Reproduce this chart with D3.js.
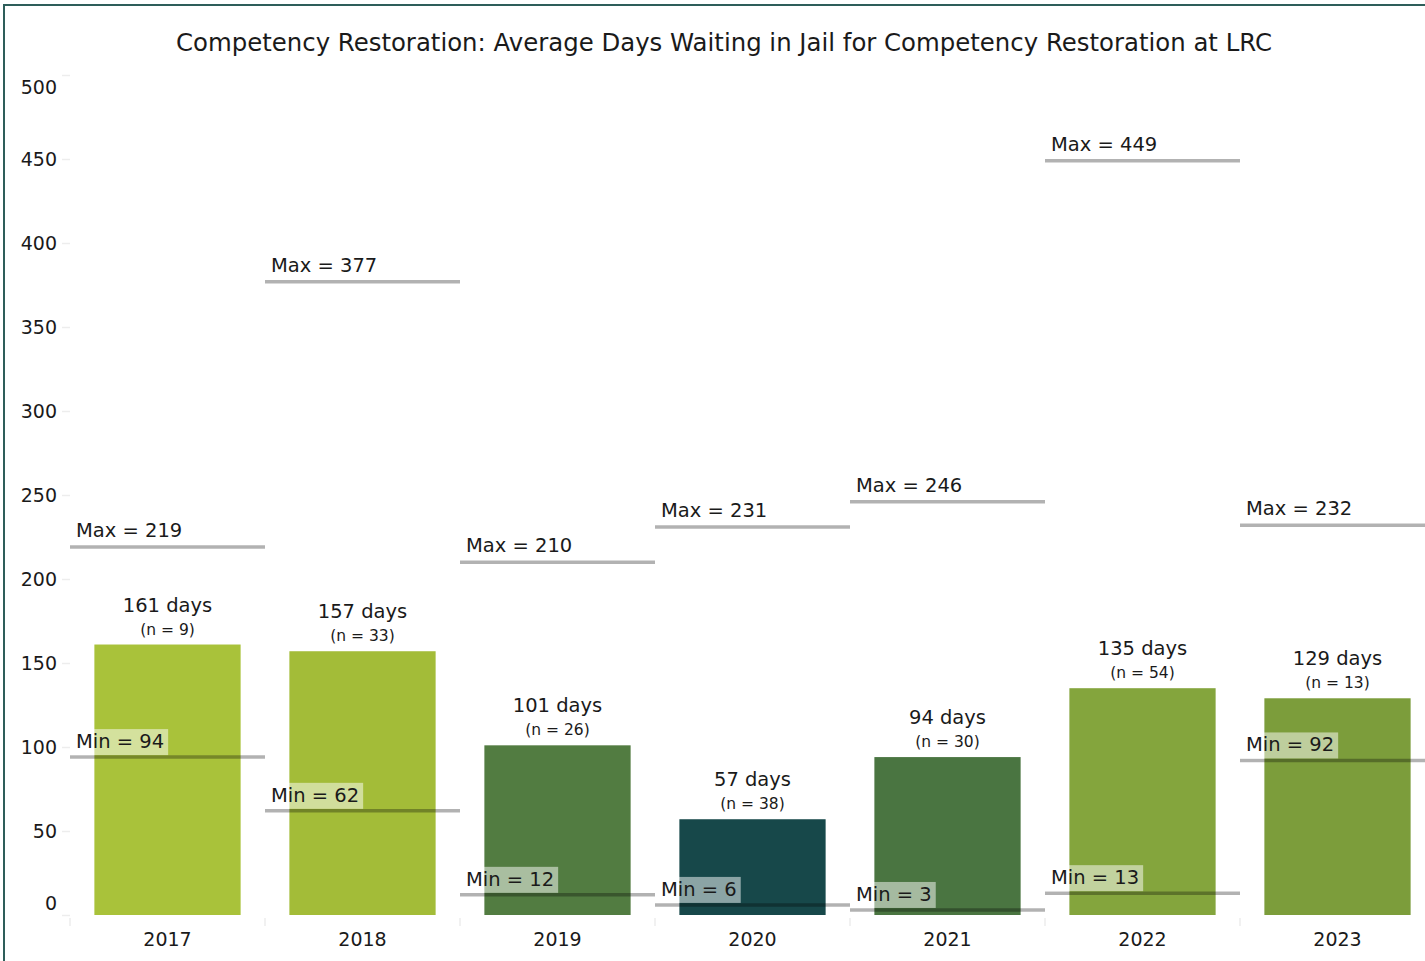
<!DOCTYPE html>
<html>
<head>
<meta charset="utf-8">
<script src="https://cdn.jsdelivr.net/npm/d3@7"></script>
<style>
  html, body { margin: 0; padding: 0; background: #fff; }
  svg { display: block; }
  text { font-family: "DejaVu Sans", "Liberation Sans", Arial, sans-serif; fill: #1a1a1a; }
</style>
</head>
<body>
<svg id="chart" width="1425" height="961"></svg>
<script>
const years = ["2017", "2018", "2019", "2020", "2021", "2022", "2023"];
const avgDays = [161, 157, 101, 57, 94, 135, 129];
const nCounts = [9, 33, 26, 38, 30, 54, 13];
const maxDays = [219, 377, 210, 231, 246, 449, 232];
const minDays = [94, 62, 12, 6, 3, 13, 92];
const barColors = ["#a9c23a", "#a3bc38", "#527c41", "#17484a", "#4a7541", "#84a53d", "#7c9d3b"];
const yTicks = [0, 50, 100, 150, 200, 250, 300, 350, 400, 450, 500];
const title = "Competency Restoration: Average Days Waiting in Jail for Competency Restoration at LRC";

const data = years.map((y, i) => ({
  year: y, avg: avgDays[i], n: nCounts[i], max: maxDays[i], min: minDays[i], color: barColors[i]
}));

const svg = d3.select("#chart");
const FONT = "DejaVu Sans, Liberation Sans, Arial, sans-serif";

// frame
svg.append("rect").attr("x", 4).attr("y", 5).attr("width", 1500).attr("height", 1000)
  .attr("fill", "none").attr("stroke", "#2e5e5a").attr("stroke-width", 2);

// title
svg.append("text").attr("x", 724).attr("y", 51).attr("text-anchor", "middle")
  .attr("font-family", "Liberation Sans, Arial, sans-serif")
  .attr("font-size", 25).attr("textLength", 1096).attr("lengthAdjust", "spacingAndGlyphs")
  .text(title);

const y = d3.scaleLinear().domain([0, 500]).range([915, 75]);
const xBand = d3.scaleBand().domain(years).range([70, 1435]).padding(0);
const xBar = d3.scaleBand().domain(years).range([70, 1435]).paddingInner(0.25).paddingOuter(0.125);

// y axis
const yAxis = d3.axisLeft(y).tickValues(yTicks).tickSize(8).tickPadding(5);
const gy = svg.append("g").attr("transform", "translate(70,0)").call(yAxis);
gy.select(".domain").remove();
gy.selectAll(".tick line").attr("stroke", "#ededed").attr("stroke-width", 1.5);
gy.selectAll(".tick text").attr("font-size", 19).attr("fill", "#1a1a1a")
  .attr("font-family", FONT)
  .attr("dy", d => d === 500 ? "0.95em" : (d === 0 ? "-0.3em" : "0.32em"));

// x axis
const xAxis = d3.axisBottom(xBand).tickSize(0).tickPadding(16);
const gx = svg.append("g").attr("transform", "translate(0,917)").call(xAxis);
gx.select(".domain").remove();
gx.selectAll(".tick text").attr("font-size", 19).attr("fill", "#1a1a1a")
  .attr("font-family", FONT);
// band boundary ticks
const edges = years.map(d => xBand(d)).concat([xBand(years[years.length - 1]) + xBand.bandwidth()]);
svg.append("g").selectAll("line").data(edges).join("line")
  .attr("x1", d => d).attr("x2", d => d).attr("y1", 918).attr("y2", 926)
  .attr("stroke", "#ededed").attr("stroke-width", 1.5);

// bars
svg.append("g").selectAll("rect").data(data).join("rect")
  .attr("x", d => xBar(d.year)).attr("width", xBar.bandwidth())
  .attr("y", d => y(d.avg)).attr("height", d => y(0) - y(d.avg))
  .attr("fill", d => d.color);

// bar labels
const lab = svg.append("g");
lab.selectAll("text.days").data(data).join("text").attr("class", "days")
  .attr("x", d => xBand(d.year) + xBand.bandwidth() / 2).attr("y", d => y(d.avg) - 33)
  .attr("text-anchor", "middle").attr("font-size", 19.5).text(d => `${d.avg} days`);
lab.selectAll("text.n").data(data).join("text").attr("class", "n")
  .attr("x", d => xBand(d.year) + xBand.bandwidth() / 2).attr("y", d => y(d.avg) - 10)
  .attr("text-anchor", "middle").attr("font-size", 15.5).text(d => `(n = ${d.n})`);

// max lines and labels
const gMax = svg.append("g");
gMax.selectAll("line").data(data).join("line")
  .attr("x1", d => xBand(d.year)).attr("x2", d => xBand(d.year) + xBand.bandwidth())
  .attr("y1", d => y(d.max)).attr("y2", d => y(d.max))
  .attr("stroke", "#000").attr("stroke-opacity", 0.3).attr("stroke-width", 3.5);
gMax.selectAll("text").data(data).join("text")
  .attr("x", d => xBand(d.year) + 6).attr("y", d => y(d.max) - 10)
  .attr("font-size", 19.5).text(d => `Max = ${d.max}`);

// min lines, boxes and labels
const gMin = svg.append("g");
gMin.selectAll("line").data(data).join("line")
  .attr("x1", d => xBand(d.year)).attr("x2", d => xBand(d.year) + xBand.bandwidth())
  .attr("y1", d => y(d.min)).attr("y2", d => y(d.min))
  .attr("stroke", "#000").attr("stroke-opacity", 0.3).attr("stroke-width", 3.5);
const minGroups = gMin.selectAll("g.minlab").data(data).join("g").attr("class", "minlab");
const boxes = minGroups.append("rect")
  .attr("fill", "#fff").attr("fill-opacity", 0.5);
const minTexts = minGroups.append("text")
  .attr("x", d => xBand(d.year) + 6).attr("y", d => y(d.min) - 9)
  .attr("font-size", 19.5).text(d => `Min = ${d.min}`);
minTexts.each(function(d, i) {
  const w = this.getComputedTextLength();
  d3.select(boxes.nodes()[i])
    .attr("x", xBand(d.year)).attr("width", w + 10)
    .attr("y", y(d.min) - 28).attr("height", 26);
});
</script>
</body>
</html>
